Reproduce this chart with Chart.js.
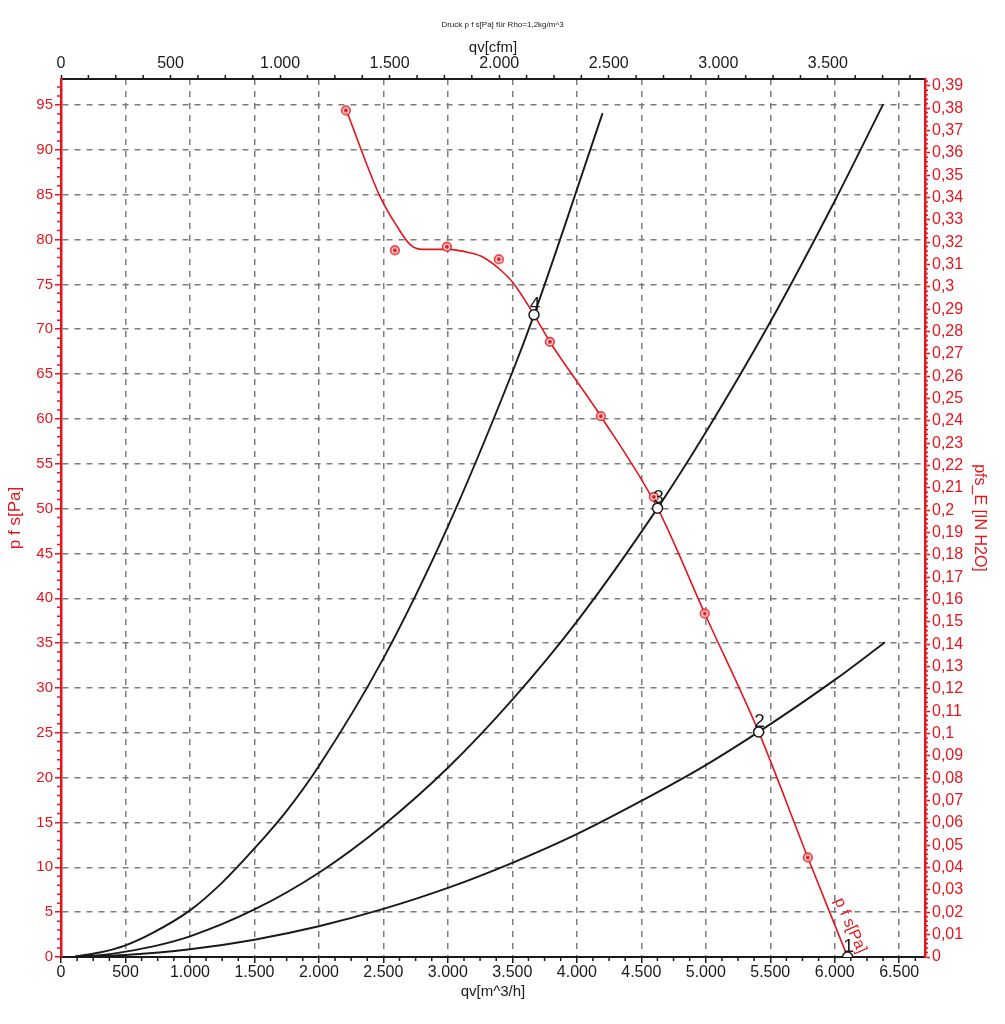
<!DOCTYPE html>
<html>
<head>
<meta charset="utf-8">
<title>Druck p f s[Pa]</title>
<script src="https://cdn.jsdelivr.net/npm/chart.js@4.4.0/dist/chart.umd.min.js"></script>
<style>
  html, body { margin: 0; padding: 0; background: #fff; }
  #wrap { width: 1005px; height: 1024px; position: relative; }
</style>
</head>
<body>
<div id="wrap"><canvas id="fanChart"></canvas></div>
<script>
// Fan curve p_fs over qv
const fanQ = [2213, 2477, 2609, 2710, 2803, 2998, 3176, 3277, 3409, 3510, 3668, 3791, 4186, 4626, 4992, 5410, 5791, 6100];
const fanP = [94.4, 84.7, 81.4, 79.4, 78.9, 78.9, 78.5, 78.0, 76.6, 75.1, 71.6, 68.6, 60.3, 50.05, 38.3, 25.1, 11.1, 0];

// measured points (red rings)
const measQ = [2209, 2589, 2992, 3395, 3791, 4186, 4597, 4992, 5791];
const measP = [94.4, 78.8, 79.2, 77.8, 68.6, 60.3, 51.3, 38.3, 11.1];

// system curves through operating points 4, 3, 2
const sys4Q = [110, 300, 500, 700, 1000, 1250, 1500, 1750, 2000, 2500, 3000, 3500, 3668, 4200];
const sys4P = [0.06, 0.5, 1.3, 2.6, 5.2, 8.3, 12.1, 16.3, 21.3, 33.3, 48.0, 65.2, 71.6, 94.1];
const sys3Q = [110, 300, 500, 750, 1000, 1500, 2000, 2500, 3000, 3500, 4000, 4626, 5000, 5500, 6000, 6376];
const sys3P = [0.03, 0.2, 0.6, 1.3, 2.3, 5.3, 9.4, 14.7, 21.1, 28.7, 37.4, 50.05, 58.5, 70.8, 84.3, 95.1];
const sys2Q = [110, 500, 1000, 1500, 2000, 2500, 3000, 3500, 4000, 4500, 5000, 5410, 6000, 6390];
const sys2P = [0.01, 0.22, 0.86, 1.93, 3.43, 5.36, 7.7, 10.5, 13.7, 17.4, 21.4, 25.1, 30.9, 35.1];

// operating points 1..4
const opLabels = ['1', '2', '3', '4'];
const opQ = [6100, 5410, 4626, 3668];
const opP = [0, 25.1, 50.05, 71.6];

// axis ranges and labelled ticks
const qMax = 6700;       // m^3/h
const pMax = 97.9;       // Pa
const CFM = 1.69901;     // m^3/h per cfm
const INH2O = 249.089;   // Pa per inch H2O
const qTicks = [0, 500, 1000, 1500, 2000, 2500, 3000, 3500, 4000, 4500, 5000, 5500, 6000, 6500];
const cfmTicks = [0, 500, 1000, 1500, 2000, 2500, 3000, 3500];
const curveNameAt = [6120, 3.5];

const red = '#e3161d';
const ink = '#1a1a1a';
const gridCol = '#7d7d7d';
const family = '"Liberation Sans", Arial, sans-serif';

const xy = (qs, ps) => qs.map((q, i) => ({ x: q, y: ps[i] }));
const fmtThousands = v => String(Math.round(v)).replace(/\B(?=(\d{3})+(?!\d))/g, '.');
const fmtComma = v => String(parseFloat(v.toFixed(2))).replace('.', ',');

// red ring with a dot for the measured points
const ringDot = document.createElement('canvas');
ringDot.width = ringDot.height = 12;
const rc = ringDot.getContext('2d');
rc.strokeStyle = red;
rc.lineWidth = 1.4;
rc.fillStyle = '#fbe3e3';
rc.beginPath();
rc.arc(6, 6, 4.3, 0, 2 * Math.PI);
rc.fill();
rc.stroke();
rc.fillStyle = red;
rc.beginPath();
rc.arc(6, 6, 2, 0, 2 * Math.PI);
rc.fill();

// small ticks between the labelled ones
const minorTicks = {
  id: 'minorTicks',
  afterDraw(chart) {
    const { ctx, chartArea: a, scales } = chart;
    ctx.save();
    ctx.lineWidth = 1.5;
    const run = (scale, step, per, color, draw) => {
      ctx.strokeStyle = color;
      ctx.beginPath();
      for (let i = 1; i * step <= scale.max + 1e-9; i++) {
        if (i % per === 0) continue;
        draw(scale.getPixelForValue(i * step));
      }
      ctx.stroke();
    };
    run(scales.x, 125, 4, ink, p => { ctx.moveTo(p, a.bottom); ctx.lineTo(p, a.bottom + 4); });
    run(scales.x2, 125, 4, ink, p => { ctx.moveTo(p, a.top); ctx.lineTo(p, a.top - 4); });
    run(scales.y, 1, 5, red, p => { ctx.moveTo(a.left - 4, p); ctx.lineTo(a.left, p); });
    run(scales.y2, 0.002, 5, red, p => { ctx.moveTo(a.right, p); ctx.lineTo(a.right + 3, p); });
    ctx.restore();
  }
};

// numbers at the operating points and the curve name
const pointLabels = {
  id: 'pointLabels',
  afterDatasetsDraw(chart) {
    const ctx = chart.ctx;
    const meta = chart.getDatasetMeta(0);
    ctx.save();
    ctx.font = '19px ' + family;
    ctx.fillStyle = ink;
    ctx.textAlign = 'center';
    ctx.textBaseline = 'alphabetic';
    meta.data.forEach((pt, i) => ctx.fillText(opLabels[i], pt.x + 1, pt.y - 5));

    const x = chart.scales.x.getPixelForValue(curveNameAt[0]);
    const y = chart.scales.y.getPixelForValue(curveNameAt[1]);
    ctx.translate(x, y);
    ctx.rotate(66 * Math.PI / 180);
    ctx.font = '16px ' + family;
    ctx.fillStyle = red;
    ctx.textBaseline = 'middle';
    ctx.fillText('p f s[Pa]', 0, 0);
    ctx.restore();
  }
};

const blackLine = (label, qs, ps) => ({
  label: label,
  data: xy(qs, ps),
  showLine: true,
  borderColor: ink,
  borderWidth: 1.9,
  pointRadius: 0,
  cubicInterpolationMode: 'monotone',
  order: 3
});

const fixedTicks = list => s => { s.ticks = list.map(v => ({ value: v })); };

new Chart(document.getElementById('fanChart'), {
  type: 'scatter',
  data: {
    datasets: [
      {
        label: 'Betriebspunkte',
        data: xy(opQ, opP),
        showLine: false,
        pointRadius: 5,
        pointBackgroundColor: '#fff',
        pointBorderColor: ink,
        pointBorderWidth: 1.5,
        order: 0
      },
      {
        label: 'Messpunkte',
        data: xy(measQ, measP),
        showLine: false,
        pointStyle: ringDot,
        order: 1
      },
      {
        label: 'p f s[Pa]',
        data: xy(fanQ, fanP),
        showLine: true,
        borderColor: red,
        borderWidth: 1.6,
        pointRadius: 0,
        cubicInterpolationMode: 'monotone',
        order: 2
      },
      blackLine('Anlage 4', sys4Q, sys4P),
      blackLine('Anlage 3', sys3Q, sys3P),
      blackLine('Anlage 2', sys2Q, sys2P)
    ]
  },
  options: {
    responsive: true,
    maintainAspectRatio: false,
    animation: false,
    events: [],
    layout: { padding: 0 },
    plugins: {
      legend: { display: false },
      tooltip: { enabled: false },
      title: {
        display: true,
        text: 'Druck p f s[Pa] für Rho=1,2kg/m^3',
        color: ink,
        font: { family: family, size: 8, weight: 'normal' },
        padding: { top: 20, bottom: 0 }
      }
    },
    scales: {
      x: {
        type: 'linear',
        position: 'bottom',
        min: 0,
        max: qMax,
        afterBuildTicks: fixedTicks(qTicks),
        afterFit: s => { s.height = 67; },
        ticks: {
          autoSkip: false, maxRotation: 0, padding: 0,
          color: ink, font: { family: family, size: 16 },
          callback: v => fmtThousands(v)
        },
        grid: { color: gridCol, lineWidth: 1.5, tickLength: 6, tickColor: ink, tickWidth: 1.5 },
        border: { color: ink, width: 2, dash: [6, 6] },
        title: {
          display: true, text: 'qv[m^3/h]', color: ink,
          font: { family: family, size: 15 }, padding: { top: 0, bottom: 23 }
        }
      },
      x2: {
        type: 'linear',
        position: 'top',
        min: 0,
        max: qMax / CFM,
        afterBuildTicks: fixedTicks(cfmTicks),
        afterFit: s => { s.height = 49.4; },
        ticks: {
          autoSkip: false, maxRotation: 0, padding: 2,
          color: ink, font: { family: family, size: 16 },
          callback: v => fmtThousands(v)
        },
        grid: { drawOnChartArea: false, tickLength: 4, tickColor: ink, tickWidth: 1.5 },
        border: { color: ink, width: 2 },
        title: {
          display: true, text: 'qv[cfm]', color: ink,
          font: { family: family, size: 15 }, padding: { top: 9, bottom: 0 }
        }
      },
      y: {
        type: 'linear',
        position: 'left',
        min: 0,
        max: pMax,
        afterFit: s => { s.width = 61; },
        ticks: {
          stepSize: 5, includeBounds: false, autoSkip: false, padding: 2,
          color: red, font: { family: family, size: 15 }
        },
        grid: { color: gridCol, lineWidth: 1.5, tickLength: 6, tickColor: red, tickWidth: 1.5 },
        border: { color: red, width: 2.5, dash: [6, 6] },
        title: {
          display: true, text: 'p f s[Pa]', color: red,
          font: { family: family, size: 17 }, padding: { top: 5, bottom: 0 }
        }
      },
      y2: {
        type: 'linear',
        position: 'right',
        min: 0,
        max: pMax / INH2O,
        afterFit: s => { s.width = 80; },
        ticks: {
          stepSize: 0.01, includeBounds: false, autoSkip: false, padding: 2,
          color: red, font: { family: family, size: 16 },
          callback: v => fmtComma(v)
        },
        grid: { drawOnChartArea: false, tickLength: 5, tickColor: red, tickWidth: 1.5 },
        border: { color: red, width: 2.5 },
        title: {
          display: true, text: 'pfs_E [IN H2O]', color: red,
          font: { family: family, size: 16 }, padding: { top: 16, bottom: 0 }
        }
      }
    }
  },
  plugins: [minorTicks, pointLabels]
});
</script>
</body>
</html>
